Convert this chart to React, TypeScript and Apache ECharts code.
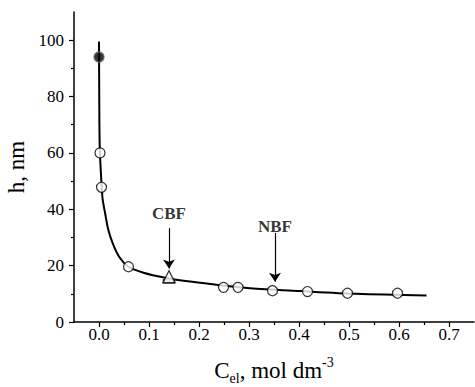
import React, { useEffect, useRef } from "react";
import * as echarts from "echarts";

// ---- data ----
const xMajorTicks = [0, 0.1, 0.2, 0.3, 0.4, 0.5, 0.6, 0.7];
const xMinorTicks = [0.05, 0.15, 0.25, 0.35, 0.45, 0.55, 0.65];
const yMajorTicks = [0, 20, 40, 60, 80, 100];
const yMinorTicks = [10, 30, 50, 70, 90];

// fitted curve (c, h)
const curveC = [0, 0.0005, 0.0015, 0.0054, 0.0074, 0.012, 0.0186, 0.0286, 0.042, 0.059, 0.089, 0.135, 0.169, 0.235, 0.302, 0.402, 0.515, 0.655];
const curveH = [99.5, 80, 62, 47.8, 43.4, 38.8, 32.7, 27.4, 22.7, 19.6, 17.5, 15.6, 14.6, 13.2, 12.0, 11.0, 10.0, 9.4];

// open circles
const openC = [0.002, 0.005, 0.059, 0.249, 0.278, 0.347, 0.417, 0.497, 0.597];
const openH = [60, 47.8, 19.6, 12.3, 12.3, 11.1, 10.8, 10.2, 10.2];

// filled circle
const filledC = [0];
const filledH = [94];

// triangle (CBF point)
const triC = [0.14];
const triH = [16.1];
const triBaseH = [14.4];

// annotations
const annLabels = ["CBF", "NBF"];
const annC = [0.14, 0.352];
const annTextH = [38.4, 33.9];
const annArrowTop = [33.3, 31.6];
const annArrowTip = [19.0, 14.3];

const FONT = "Liberation Serif";

const near = (v: number, list: number[]) => list.some((t) => Math.abs(t - v) < 1e-6);

export default function App() {
  const ref = useRef<HTMLDivElement>(null);
  useEffect(() => {
    if (!ref.current) return;
    const chart = echarts.init(ref.current, undefined, { renderer: "svg" });
    const zip = (a: number[], b: number[]) => a.map((v, i) => [v, b[i]]);
    chart.setOption({
      animation: false,
      backgroundColor: "#fff",
      textStyle: { fontFamily: FONT, color: "#000" },
      grid: { left: 74, right: 1, top: 12, bottom: 65, containLabel: false, outerBoundsMode: "none" },
      xAxis: [
        {
          type: "value",
          min: -0.05,
          max: 0.75,
          interval: 0.05,
          position: "bottom",
          axisLine: { show: true, onZero: false, lineStyle: { color: "#000", width: 1.5 } },
          axisTick: { show: true, length: 5, customValues: xMajorTicks, lineStyle: { color: "#000", width: 1.2 } },
          axisLabel: {
            show: true,
            showMinLabel: true,
            showMaxLabel: true,
            hideOverlap: false,
            interval: 0,
            margin: 4,
            fontSize: 17,
            color: "#000",
            fontFamily: FONT,
            formatter: (v: number) => (near(v, xMajorTicks) ? v.toFixed(1) : ""),
          },
          splitLine: { show: false },
          name: "{a|C}{sub|el}{a|, mol dm}{sup|-3}",
          nameLocation: "middle",
          nameGap: 33,
          nameTextStyle: {
            color: "#000",
            fontFamily: FONT,
            rich: {
              a: { fontSize: 23, lineHeight: 30, fontFamily: FONT, color: "#000" },
              sub: { fontSize: 14, lineHeight: 14, verticalAlign: "bottom", fontFamily: FONT, color: "#000" },
              sup: { fontSize: 14, lineHeight: 14, verticalAlign: "top", fontFamily: FONT, color: "#000" },
            },
          },
        },
        {
          type: "value",
          min: -0.05,
          max: 0.75,
          position: "bottom",
          axisLine: { show: false, onZero: false },
          axisTick: { show: true, length: 3, customValues: xMinorTicks, lineStyle: { color: "#000", width: 1.2 } },
          axisLabel: { show: false },
          splitLine: { show: false },
        },
      ],
      yAxis: [
        {
          type: "value",
          min: 0,
          max: 110,
          interval: 10,
          position: "left",
          axisLine: { show: true, onZero: false, lineStyle: { color: "#000", width: 1.5 } },
          axisTick: { show: true, length: 5, customValues: yMajorTicks, lineStyle: { color: "#000", width: 1.2 } },
          axisLabel: {
            show: true,
            showMinLabel: true,
            showMaxLabel: true,
            hideOverlap: false,
            interval: 0,
            margin: 10,
            fontSize: 17,
            color: "#000",
            fontFamily: FONT,
            formatter: (v: number) => (near(v, yMajorTicks) ? String(v) : ""),
          },
          splitLine: { show: false },
          name: "h, nm",
          nameLocation: "middle",
          nameGap: 42,
          nameRotate: 90,
          nameTextStyle: { fontSize: 23, color: "#000", fontFamily: FONT },
        },
        {
          type: "value",
          min: 0,
          max: 110,
          position: "left",
          axisLine: { show: false, onZero: false },
          axisTick: { show: true, length: 3, customValues: yMinorTicks, lineStyle: { color: "#000", width: 1.2 } },
          axisLabel: { show: false },
          splitLine: { show: false },
        },
      ],
      series: [
        {
          type: "line",
          data: zip(curveC, curveH),
          smooth: 0.3,
          showSymbol: false,
          symbol: "none",
          lineStyle: { color: "#000", width: 2 },
          z: 2,
          silent: true,
          markLine: {
            silent: true,
            symbol: ["none", "arrow"],
            symbolSize: 9,
            label: { show: false },
            lineStyle: { color: "#000", width: 1.2, type: "solid" },
            data: annC.map((c, i) => [
              { coord: [c, annArrowTop[i]] },
              { coord: [c, annArrowTip[i]] },
            ]),
          },
        },
        {
          type: "scatter",
          data: zip(triC, triBaseH),
          symbol: "rect",
          symbolSize: [11, 4],
          itemStyle: { color: "#888", borderColor: "#222", borderWidth: 1 },
          z: 3,
          silent: true,
        },
        {
          type: "scatter",
          data: zip(triC, triH),
          symbol: "triangle",
          symbolSize: 12,
          itemStyle: { color: "#fff", borderColor: "#000", borderWidth: 1.2 },
          z: 4,
          silent: true,
        },
        {
          type: "scatter",
          data: zip(openC, openH),
          symbol: "circle",
          symbolSize: 10,
          itemStyle: { color: "#fff", borderColor: "#000", borderWidth: 1.2 },
          z: 4,
          silent: true,
        },
        {
          type: "scatter",
          data: zip(filledC, filledH),
          symbol: "circle",
          symbolSize: 10,
          itemStyle: { color: "#000", borderColor: "#666", borderWidth: 1.5 },
          z: 4,
          silent: true,
        },
        {
          type: "scatter",
          data: annC.map((c, i) => ({ value: [c, annTextH[i]], name: annLabels[i] })),
          symbolSize: 1,
          itemStyle: { color: "transparent" },
          label: {
            show: true,
            position: "inside",
            formatter: (p: any) => p.name,
            fontSize: 17,
            fontWeight: "bold",
            color: "#000",
            fontFamily: FONT,
          },
          z: 5,
          silent: true,
        },
      ],
    });
    return () => chart.dispose();
  }, []);
  return (
    <div
      ref={ref}
      style={{ position: "fixed", left: 0, top: 0, width: 475, height: 387, background: "#fff" }}
    />
  );
}
